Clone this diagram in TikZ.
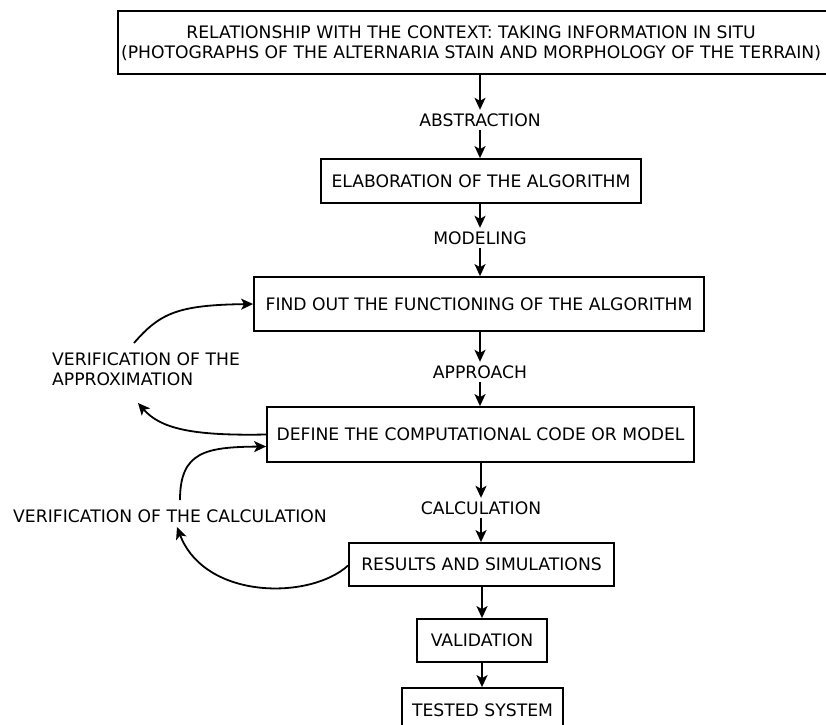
\documentclass[tikz,border=0pt]{standalone}
\usepackage{fontspec}
\setmainfont{DejaVu Sans}
\usetikzlibrary{arrows.meta,calc}
\begin{document}
\begin{tikzpicture}[x=1pt,y=-1pt,
  font=\fontsize{17.2}{20.5}\selectfont,
  box/.style={draw,line width=1.8pt,inner sep=0pt,align=center},
  lbl/.style={inner sep=0pt,minimum height=20pt},
  side/.style={inner sep=0pt,align=left,anchor=west},
  arr/.style={line width=1.8pt,-{Stealth[length=12pt,width=11pt,inset=3pt]}}]
\useasboundingbox (0,0) rectangle (826,724);
% boxes
\node[box,minimum width=730pt,minimum height=63pt,anchor=west] (top) at (117,42.5) {};
\node[inner sep=0pt,align=center] (toptxt) at (471,43)
  {RELATIONSHIP WITH THE CONTEXT: TAKING INFORMATION IN SITU\\(PHOTOGRAPHS OF THE ALTERNARIA STAIN AND MORPHOLOGY OF THE TERRAIN)};
\node[box,minimum width=320pt,minimum height=44pt] (elab) at (481,181) {ELABORATION OF THE ALGORITHM};
\node[box,minimum width=450pt,minimum height=54pt] (find) at (479,304) {FIND OUT THE FUNCTIONING OF THE ALGORITHM};
\node[box,minimum width=427pt,minimum height=55pt] (define) at (480.5,434.5) {DEFINE THE COMPUTATIONAL CODE OR MODEL};
\node[box,minimum width=265pt,minimum height=43pt] (results) at (481.5,564.5) {RESULTS AND SIMULATIONS};
\node[box,minimum width=130pt,minimum height=43pt] (valid) at (482,640.5) {VALIDATION};
\node[box,minimum width=161pt,minimum height=44pt] (tested) at (482.5,710) {TESTED SYSTEM};
% labels
\node[lbl] (abs) at (480,120) {ABSTRACTION};
\node[lbl] (mod) at (480,238) {MODELING};
\node[lbl] (app) at (480,372) {APPROACH};
\node[lbl] (cal) at (481,508) {CALCULATION};
\node[side] (apx) at (52,369) {VERIFICATION OF THE\\APPROXIMATION};
\node[side] (vcal) at (13,516) {VERIFICATION OF THE CALCULATION};
% main flow
\draw[arr] (top.south -| abs.north) -- (abs.north);
\draw[arr] (abs.south) -- (abs.south |- elab.north);
\draw[arr] (elab.south -| mod.north) -- (mod.north);
\draw[arr] (mod.south) -- (mod.south |- find.north);
\draw[arr] (find.south -| app.north) -- (app.north);
\draw[arr] (app.south) -- (app.south |- define.north);
\draw[arr] (define.south -| cal.north) -- (cal.north);
\draw[arr] (cal.south) -- (cal.south |- results.north);
\draw[arr] (results.south -| valid.north) -- (valid.north);
\draw[arr] (valid.south) -- (valid.south |- tested.north);
% feedback loops
\coordinate (a1) at (134,343);
\coordinate (a2) at (138,403);
\coordinate (c1) at (180,500);
\coordinate (c2) at (177,527);
\draw[arr] (a1) .. controls (160,313) and (178,305) .. (find.west);
\draw[arr] (define.west) .. controls (190,436) and (160,428) .. (a2);
\draw[arr] (c1) .. controls (180,452) and (205,447) .. ([yshift=-12pt]define.west);
\draw[arr] ([yshift=-1pt]results.west) .. controls (310,600) and (205,600) .. (c2);
\end{tikzpicture}
\end{document}
